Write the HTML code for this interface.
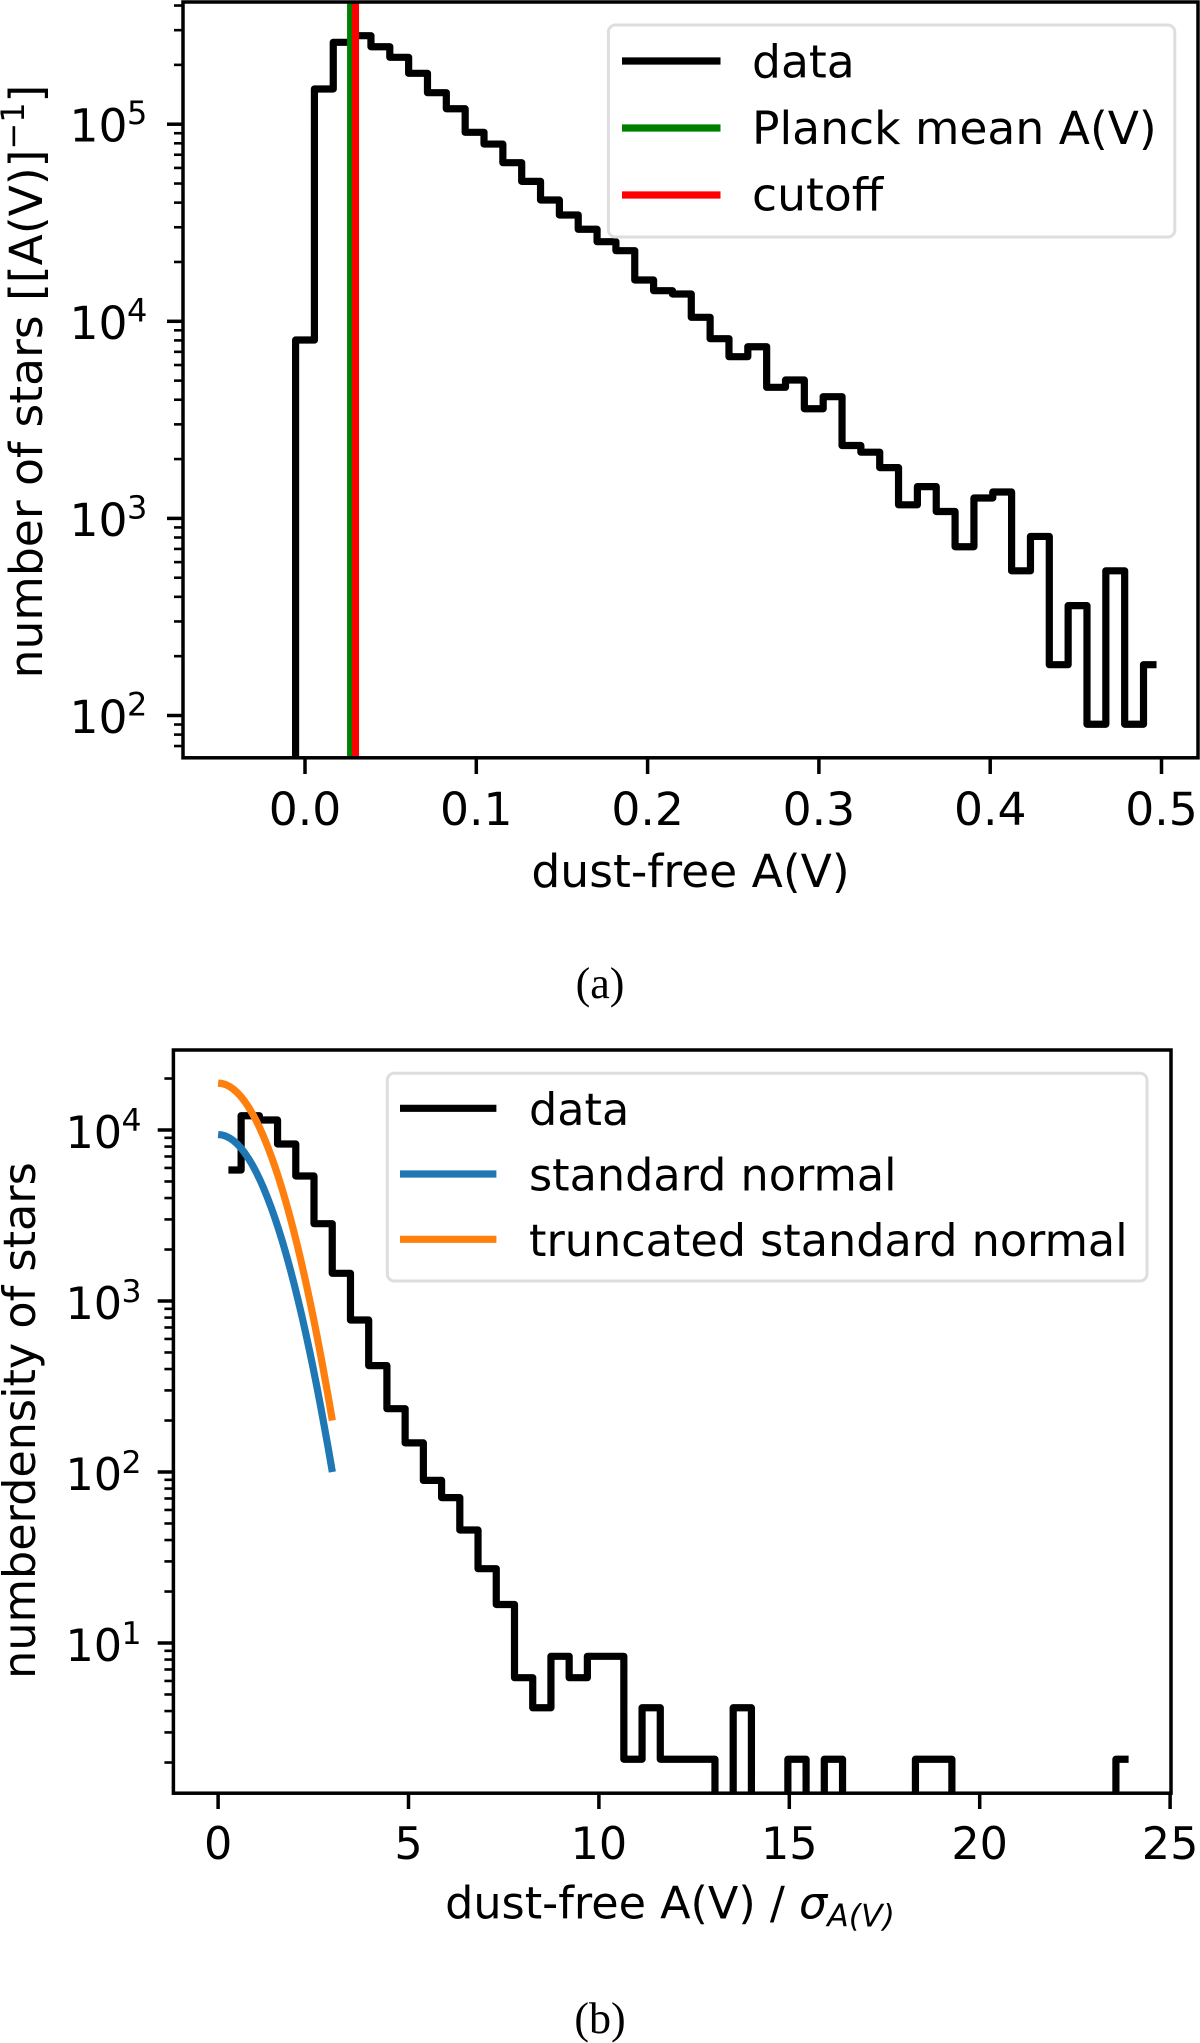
<!DOCTYPE html>
<html lang="en">
<head>
<meta charset="utf-8">
<title>Dust-free A(V) histograms</title>
<style>
html,body{margin:0;padding:0;background:#fff;}
svg{display:block;}
text{font-family:"DejaVu Sans",sans-serif;fill:#000;}
.serif{font-family:"Liberation Serif",serif;font-size:44px;}
.t46{font-size:45.6px;}
.t45{font-size:44.5px;}
.spine{fill:none;stroke:#000;stroke-width:3.5;}
.legend-box{fill:#fff;stroke:#dedede;stroke-width:3;}
</style>
</head>
<body>
<svg id="fig" xmlns="http://www.w3.org/2000/svg" width="1200" height="2043" viewBox="0 0 1200 2043">
  <rect x="0" y="0" width="1200" height="2043" fill="#fff"/>
  <defs>
    <clipPath id="clipA"><rect x="183" y="2" width="1015" height="755.8"/></clipPath>
    <clipPath id="clipB"><rect x="173.4" y="1050" width="997.6" height="743.2"/></clipPath>
  </defs>

  <g id="panelA">
    <g id="marksA" clip-path="url(#clipA)"></g>
    <g id="ticksA"></g>
    <rect class="spine" x="183" y="2" width="1015" height="755.8"/>
    <text class="t46" x="690.5" y="887" text-anchor="middle">dust-free A(V)</text>
    <text class="t46" transform="translate(42,381.5) rotate(-90)" text-anchor="middle">number of stars [[A(V)]<tspan font-size="32" dy="-18">−1</tspan><tspan dy="18">]</tspan></text>
    <g>
      <rect class="legend-box" x="608.4" y="25" width="566.4" height="212" rx="7"/>
      <line x1="622" x2="720.5" y1="61" y2="61" stroke="#000" stroke-width="7.2"/>
      <text class="t46" x="752" y="77.3">data</text>
      <line x1="622" x2="720.5" y1="128" y2="128" stroke="#008000" stroke-width="7.2"/>
      <text class="t46" x="752" y="144">Planck mean A(V)</text>
      <line x1="622" x2="720.5" y1="195" y2="195" stroke="#ff0000" stroke-width="7.2"/>
      <text class="t46" x="752" y="210.7">cutoff</text>
    </g>
    <text class="serif" x="600" y="998" text-anchor="middle">(a)</text>
  </g>

  <g id="panelB">
    <g id="marksB" clip-path="url(#clipB)"></g>
    <g id="ticksB"></g>
    <rect class="spine" x="173.4" y="1050" width="997.6" height="743.2"/>
    <text class="t45" x="670" y="1918.7" text-anchor="middle">dust-free A(V) / <tspan font-style="italic">σ</tspan><tspan font-style="italic" font-size="31.5" dy="8">A(V)</tspan></text>
    <text class="t45" transform="translate(35,1420.5) rotate(-90)" text-anchor="middle">numberdensity of stars</text>
    <g>
      <rect class="legend-box" x="387.3" y="1073.3" width="759.7" height="207.7" rx="7"/>
      <line x1="400" x2="496.4" y1="1108.3" y2="1108.3" stroke="#000" stroke-width="7.2"/>
      <text class="t45" x="529" y="1125">data</text>
      <line x1="400" x2="496.4" y1="1174" y2="1174" stroke="#1f77b4" stroke-width="7.2"/>
      <text class="t45" x="529" y="1190.7">standard normal</text>
      <line x1="400" x2="496.4" y1="1239.3" y2="1239.3" stroke="#ff7f0e" stroke-width="7.2"/>
      <text class="t45" x="529" y="1256">truncated standard normal</text>
    </g>
    <text class="serif" x="600" y="2033" text-anchor="middle">(b)</text>
  </g>
</svg>

<script>
// Panel (a) data
var binCentersA = [-0.011,0,0.011,0.022,0.033,0.044,0.055,0.066,0.077,0.088,0.099,0.11,0.121,0.132,0.143,0.154,0.165,0.176,0.187,0.198,0.209,0.22,0.231,0.242,0.253,0.264,0.275,0.286,0.297,0.308,0.319,0.33,0.341,0.352,0.363,0.374,0.385,0.396,0.407,0.418,0.429,0.44,0.451,0.462,0.473,0.484,0.495];
var countsA = [0,8035,150900,260300,281200,247200,218500,181200,144500,119800,90950,79300,63800,51300,41250,34630,29300,25340,22820,16200,14300,13760,10480,8160,6615,7430,4625,5036,3601,4144,2343,2167,1810,1172,1450,1084,718,1269,1361,542,810,181,361,90.3,542,90.3,181];
var planckMeanAV = [0.0266];
var cutoffAV = [0.0295];
var xTicksA = [0,0.1,0.2,0.3,0.4,0.5];
var xTickLabelsA = ['0.0','0.1','0.2','0.3','0.4','0.5'];
var yExponentsA = [2,3,4,5];

// Panel (b) data
var binCentersB = [0.365,0.844,1.322,1.801,2.279,2.758,3.237,3.715,4.194,4.672,5.151,5.63,6.108,6.587,7.065,7.544,8.023,8.501,8.98,9.458,9.937,10.416,10.894,11.373,11.851,12.33,12.809,13.287,13.766,14.244,14.723,15.202,15.68,16.159,16.637,17.116,17.595,18.073,18.552,19.03,19.509,19.988,20.466,20.945,21.423,21.902,22.381,22.859,23.338,23.816];
var densityB = [5834,12120,11440,8283,5383,2833,1452,774,419,234.6,148,89.3,70.8,45.8,27.2,16.8,6.27,4.18,8.36,6.27,8.36,8.36,2.09,4.18,2.09,2.09,2.09,0,4.18,0,0,2.09,0,2.09,0,0,0,0,2.09,2.09,0,0,0,0,0,0,0,0,0,2.09];
var normalX = [0,0.1,0.2,0.3,0.4,0.5,0.6,0.7,0.8,0.9,1,1.1,1.2,1.3,1.4,1.5,1.6,1.7,1.8,1.9,2,2.1,2.2,2.3,2.4,2.5,2.6,2.7,2.8,2.9,3];
var standardNormal = [9400,9353,9212,8983,8670,8285,7838,7340,6805,6245,5674,5103,4543,4004,3494,3018,2581,2185,1831,1519,1247,1014,816,650,513,401,310,237,179,135,100];
var truncatedNormal = [18800,18706,18424,17966,17340,16570,15676,14680,13610,12490,11348,10206,9086,8008,6988,6036,5162,4370,3662,3038,2494,2028,1632,1300,1026,802,620,474,358,270,200];
var xTicksB = [0,5,10,15,20,25];
var xTickLabelsB = ['0','5','10','15','20','25'];
var yExponentsB = [1,2,3,4];

var SVGNS = 'http://www.w3.org/2000/svg';
function mk(tag, parent, attrs) {
  var e = document.createElementNS(SVGNS, tag);
  for (var k in attrs) { e.setAttribute(k, attrs[k]); }
  parent.appendChild(e);
  return e;
}

// Axis functions
function xA(v) { return 305 + 1713 * v; }
function yA(v) { return v > 0 ? 715.5 - 197.1 * (Math.log10(v) - 2) : 800; }
function xB(v) { return 218.1 + 38.08 * v; }
function yB(v) { return v > 0 ? 1643 - 171 * (Math.log10(v) - 1) : 1840; }

function stepsMid(xs, ys, xf, yf) {
  var d = 'M' + xf(xs[0]).toFixed(2) + ' ' + yf(ys[0]).toFixed(2);
  for (var i = 1; i < xs.length; i++) {
    var mid = (xf(xs[i - 1]) + xf(xs[i])) / 2;
    d += 'H' + mid.toFixed(2) + 'V' + yf(ys[i]).toFixed(2);
  }
  return d + 'H' + xf(xs[xs.length - 1]).toFixed(2);
}
function polyline(xs, ys, xf, yf) {
  var d = '';
  for (var i = 0; i < xs.length; i++) {
    d += (i ? 'L' : 'M') + xf(xs[i]).toFixed(2) + ' ' + yf(ys[i]).toFixed(2);
  }
  return d;
}

var marksA = document.getElementById('marksA');
var marksB = document.getElementById('marksB');
var ticksA = document.getElementById('ticksA');
var ticksB = document.getElementById('ticksB');
var el, i, j;

// Panel (a) marks
el = mk('path', marksA, {d: stepsMid(binCentersA, countsA, xA, yA), fill: 'none', stroke: '#000', 'stroke-width': 7.2, 'stroke-linejoin': 'round', 'stroke-linecap': 'square'});


el = mk('line', marksA, {x1: xA(planckMeanAV[0]), x2: xA(planckMeanAV[0]), y1: 0, y2: 760, stroke: '#008000', 'stroke-width': 7});


el = mk('line', marksA, {x1: xA(cutoffAV[0]), x2: xA(cutoffAV[0]), y1: 0, y2: 760, stroke: '#ff0000', 'stroke-width': 7});



// Panel (b) marks
el = mk('path', marksB, {d: stepsMid(binCentersB, densityB, xB, yB), fill: 'none', stroke: '#000', 'stroke-width': 7.2, 'stroke-linejoin': 'round', 'stroke-linecap': 'square'});


el = mk('path', marksB, {d: polyline(normalX, standardNormal, xB, yB), fill: 'none', stroke: '#1f77b4', 'stroke-width': 7.2, 'stroke-linejoin': 'round'});


el = mk('path', marksB, {d: polyline(normalX, truncatedNormal, xB, yB), fill: 'none', stroke: '#ff7f0e', 'stroke-width': 7.2, 'stroke-linejoin': 'round'});



// X ticks
for (i = 0; i < xTicksA.length; i++) {
  el = mk('line', ticksA, {x1: xA(xTicksA[i]), x2: xA(xTicksA[i]), y1: 757.8, y2: 774, stroke: '#000', 'stroke-width': 3.5});
  
  
  el = mk('text', ticksA, {x: xA(xTicksA[i]), y: 825, 'text-anchor': 'middle', 'font-size': 45.6});
  el.textContent = xTickLabelsA[i];
  
  
}
for (i = 0; i < xTicksB.length; i++) {
  el = mk('line', ticksB, {x1: xB(xTicksB[i]), x2: xB(xTicksB[i]), y1: 1793.2, y2: 1809, stroke: '#000', 'stroke-width': 3.5});
  
  
  el = mk('text', ticksB, {x: xB(xTicksB[i]), y: 1859, 'text-anchor': 'middle', 'font-size': 44.5});
  el.textContent = xTickLabelsB[i];
  
  
}

// Y ticks (log) panel a
for (i = 0; i < yExponentsA.length; i++) {
  var ya = yA(Math.pow(10, yExponentsA[i]));
  el = mk('line', ticksA, {x1: 167, x2: 183, y1: ya, y2: ya, stroke: '#000', 'stroke-width': 3.5});
  
  
  el = mk('text', ticksA, {x: 69.5, y: ya + 17.5, 'font-size': 45.6});
  el.textContent = '10';
  
  
  el = mk('text', ticksA, {x: 127, y: ya, 'font-size': 32});
  el.textContent = String(yExponentsA[i]);
  
  
}
for (i = 1; i <= 5; i++) {
  for (j = 2; j <= 9; j++) {
    var va = j * Math.pow(10, i);
    var pa = yA(va);
    if (pa < 2 || pa > 757.8) continue;
    el = mk('line', ticksA, {x1: 174, x2: 183, y1: pa, y2: pa, stroke: '#000', 'stroke-width': 2.6});
    
    
  }
}

// Y ticks (log) panel b
for (i = 0; i < yExponentsB.length; i++) {
  var yb = yB(Math.pow(10, yExponentsB[i]));
  el = mk('line', ticksB, {x1: 157.7, x2: 173.4, y1: yb, y2: yb, stroke: '#000', 'stroke-width': 3.5});
  
  
  el = mk('text', ticksB, {x: 65.5, y: yb + 18, 'font-size': 44.5});
  el.textContent = '10';
  
  
  el = mk('text', ticksB, {x: 121.5, y: yb + 1, 'font-size': 31.5});
  el.textContent = String(yExponentsB[i]);
  
  
}
for (i = 0; i <= 4; i++) {
  for (j = 2; j <= 9; j++) {
    var vb = j * Math.pow(10, i);
    var pb = yB(vb);
    if (pb < 1050 || pb > 1793.2) continue;
    el = mk('line', ticksB, {x1: 164.4, x2: 173.4, y1: pb, y2: pb, stroke: '#000', 'stroke-width': 2.6});
    
    
  }
}
</script>
</body>
</html>
